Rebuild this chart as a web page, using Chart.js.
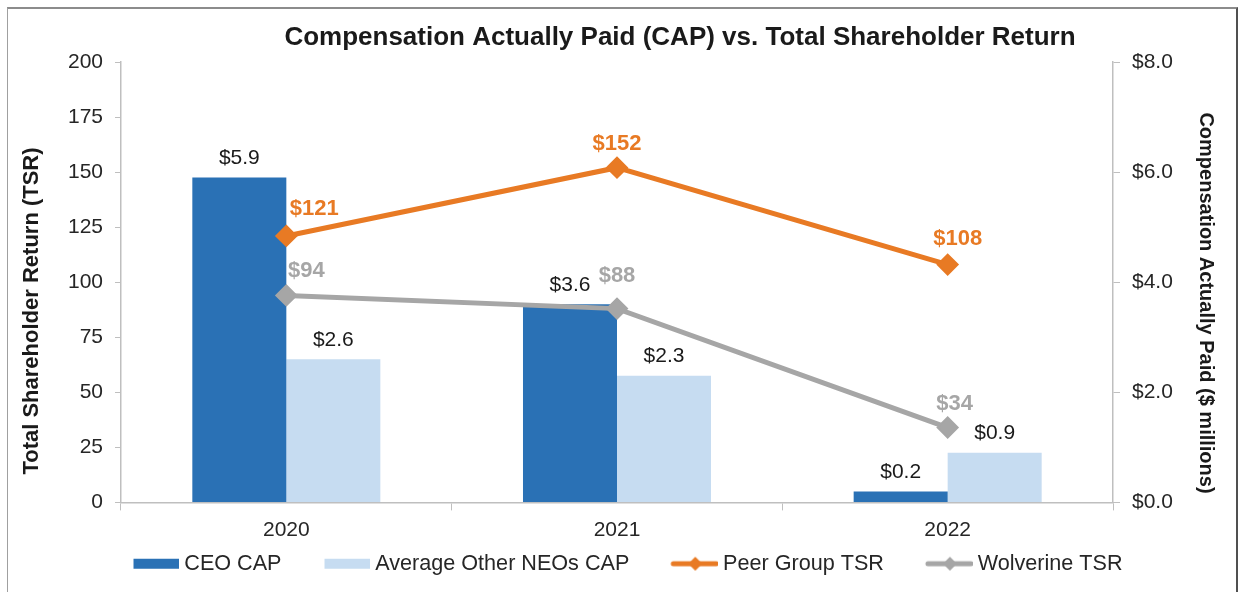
<!DOCTYPE html>
<html>
<head>
<meta charset="utf-8">
<script src="https://cdn.jsdelivr.net/npm/chart.js@4.4.1/dist/chart.umd.min.js"></script>
<style>
html,body{margin:0;padding:0;background:#fff;}
#wrap{position:relative;width:1241px;height:592px;overflow:hidden;}
canvas{position:absolute;left:0;top:0;}
#frame{position:absolute;left:7px;top:7px;width:1231px;height:700px;border-top:2px solid #8c8c8c;border-left:1px solid #a0a0a0;border-right:2px solid #505050;box-sizing:border-box;pointer-events:none;}
</style>
</head>
<body>
<div id="wrap"><canvas id="c" width="1241" height="592"></canvas><div id="frame"></div></div>
<script>
// ---- data ----
const categories = ['2020', '2021', '2022'];
const ceoCap = [5.9, 3.6, 0.2];
const neoCap = [2.6, 2.3, 0.9];
const peerTsr = [121, 152, 108];
const wolverineTsr = [94, 88, 34];
const tsrTickLabels = ['0', '25', '50', '75', '100', '125', '150', '175', '200'];
const capTickLabels = ['$0.0', '$2.0', '$4.0', '$6.0', '$8.0'];
const seriesNames = ['CEO CAP', 'Average Other NEOs CAP', 'Peer Group TSR', 'Wolverine TSR'];

const C_BLUE = '#2a71b5', C_LBLUE = '#c6dcf1', C_ORANGE = '#e87a24', C_GRAY = '#a6a6a6';
const FONT = "'Liberation Sans', Arial, sans-serif";
Chart.defaults.font.family = FONT;

// legend swatches
const SW = 73, SWI = 85;
function barSwatch(color) {
  const c = document.createElement('canvas'); c.width = SWI; c.height = 12;
  const g = c.getContext('2d'); g.fillStyle = color; g.fillRect(SWI - 46, 1, 46, 10);
  return c;
}
function lineSwatch(color) {
  const c = document.createElement('canvas'); c.width = SWI; c.height = 16;
  const g = c.getContext('2d');
  g.strokeStyle = color; g.lineWidth = 5; g.lineCap = 'round';
  g.beginPath(); g.moveTo(SWI - 45, 8); g.lineTo(SWI - 2, 8); g.stroke();
  const cx = SWI - 23;
  g.fillStyle = color; g.beginPath();
  g.moveTo(cx, 1); g.lineTo(cx + 7, 8); g.lineTo(cx, 15); g.lineTo(cx - 7, 8); g.closePath(); g.fill();
  return c;
}
const swatches = [barSwatch(C_BLUE), barSwatch(C_LBLUE), lineSwatch(C_ORANGE), lineSwatch(C_GRAY)];

const textPlugin = {
  id: 'texts',
  afterDatasetsDraw(chart, args, opts) {
    const ctx = chart.ctx;
    ctx.save();
    chart.data.datasets.forEach((ds, di) => {
      const meta = chart.getDatasetMeta(di);
      const lab = opts.labels[di];
      ctx.font = lab.font;
      ctx.fillStyle = lab.color;
      ctx.textAlign = 'center';
      ctx.textBaseline = 'alphabetic';
      meta.data.forEach((el, i) => {
        const off = lab.offsets[i];
        const txt = lab.fmt(ds.data[i]);
        ctx.fillText(txt, el.x + off[0], el.y + off[1] + lab.size * 0.358);
      });
    });
    ctx.restore();
  },
  afterDraw(chart, args, opts) {
    const ctx = chart.ctx;
    ctx.save();
    ctx.fillStyle = '#1a1a1a';
    ctx.textAlign = 'center';
    ctx.textBaseline = 'alphabetic';
    ctx.font = 'bold 26px ' + FONT;
    ctx.fillText(opts.title, 680, 45);
    ctx.save();
    ctx.translate(38, 311); ctx.rotate(-Math.PI / 2);
    ctx.font = 'bold 22px ' + FONT;
    ctx.fillText(opts.leftTitle, 0, 0);
    ctx.restore();
    ctx.save();
    ctx.translate(1200, 303); ctx.rotate(Math.PI / 2);
    ctx.font = 'bold 20px ' + FONT;
    ctx.fillText(opts.rightTitle, 0, 0);
    ctx.restore();
    ctx.restore();
  }
};

const axisColor = '#bfbfbf';
const tickColor = '#262626';

new Chart(document.getElementById('c'), {
  data: {
    labels: categories,
    datasets: [
      { type: 'bar', label: seriesNames[0], data: ceoCap, yAxisID: 'yCap', backgroundColor: C_BLUE, borderWidth: 0, order: 2 },
      { type: 'bar', label: seriesNames[1], data: neoCap, yAxisID: 'yCap', backgroundColor: C_LBLUE, borderWidth: 0, order: 2 },
      { type: 'line', label: seriesNames[2], data: peerTsr, yAxisID: 'yTsr', borderColor: C_ORANGE, backgroundColor: C_ORANGE,
        borderWidth: 5, pointStyle: 'rectRot', pointRadius: 10, pointBorderWidth: 2, pointBackgroundColor: C_ORANGE, pointBorderColor: C_ORANGE, tension: 0, order: 0 },
      { type: 'line', label: seriesNames[3], data: wolverineTsr, yAxisID: 'yTsr', borderColor: C_GRAY, backgroundColor: C_GRAY,
        borderWidth: 5, pointStyle: 'rectRot', pointRadius: 10, pointBorderWidth: 2, pointBackgroundColor: C_GRAY, pointBorderColor: C_GRAY, tension: 0, order: 1 }
    ]
  },
  options: {
    responsive: false,
    animation: false,
    devicePixelRatio: 1,
    layout: { padding: { top: 62, bottom: 7.5, left: 0, right: 18 } },
    datasets: { bar: { categoryPercentage: 0.5686, barPercentage: 1.0 } },
    scales: {
      x: {
        type: 'category',
        offset: true,
        grid: { display: true, drawOnChartArea: false, drawTicks: true, tickLength: 8, color: axisColor, offset: true },
        border: { display: true, color: axisColor, width: 1.5 },
        ticks: { color: tickColor, font: { size: 21 }, padding: 7, maxRotation: 0 },
        afterFit(s) { s.height = 40.5; }
      },
      yTsr: {
        type: 'linear', position: 'left', min: 0, max: 200,
        ticks: { stepSize: 25, color: tickColor, font: { size: 21 }, padding: 12,
          callback: (v, i) => tsrTickLabels[i] },
        grid: { display: true, drawOnChartArea: false, drawTicks: true, tickLength: 6, color: axisColor },
        border: { display: true, color: axisColor, width: 1.5 },
        afterFit(s) { s.width = 121; }
      },
      yCap: {
        type: 'linear', position: 'right', min: 0, max: 8,
        ticks: { stepSize: 2, color: tickColor, font: { size: 21 }, padding: 12,
          callback: (v, i) => capTickLabels[i] },
        grid: { display: true, drawOnChartArea: false, drawTicks: true, tickLength: 7, color: axisColor },
        border: { display: true, color: axisColor, width: 1.5 },
        afterFit(s) { s.width = 110; }
      }
    },
    plugins: {
      title: { display: false },
      tooltip: { enabled: false },
      legend: {
        position: 'bottom',
        align: 'center',
        labels: {
          usePointStyle: true,
          pointStyleWidth: SW,
          padding: 10,
          color: tickColor,
          font: { size: 21.6 },
          generateLabels(chart) {
            return chart.data.datasets.map((ds, i) => ({
              text: ds.label, pointStyle: swatches[i], fillStyle: 'rgba(0,0,0,0)', strokeStyle: 'rgba(0,0,0,0)',
              lineWidth: 0, hidden: !chart.isDatasetVisible(i), datasetIndex: i, fontColor: tickColor
            }));
          }
        }
      },
      texts: {
        title: 'Compensation Actually Paid (CAP) vs. Total Shareholder Return',
        leftTitle: 'Total Shareholder Return (TSR)',
        rightTitle: 'Compensation Actually Paid ($ millions)',
        labels: [
          { font: '21px ' + FONT, size: 21, color: '#1a1a1a', fmt: v => '$' + v.toFixed(1), offsets: [[0, -21], [0, -21], [0, -21]] },
          { font: '21px ' + FONT, size: 21, color: '#1a1a1a', fmt: v => '$' + v.toFixed(1), offsets: [[0, -21], [0, -21], [0, -21]] },
          { font: 'bold 22px ' + FONT, size: 22, color: C_ORANGE, fmt: v => '$' + v, offsets: [[28, -29], [0, -26], [10, -27]] },
          { font: 'bold 22px ' + FONT, size: 22, color: C_GRAY, fmt: v => '$' + v, offsets: [[20, -26], [0, -35], [7, -25]] }
        ]
      }
    }
  },
  plugins: [textPlugin]
});
</script>
</body>
</html>
